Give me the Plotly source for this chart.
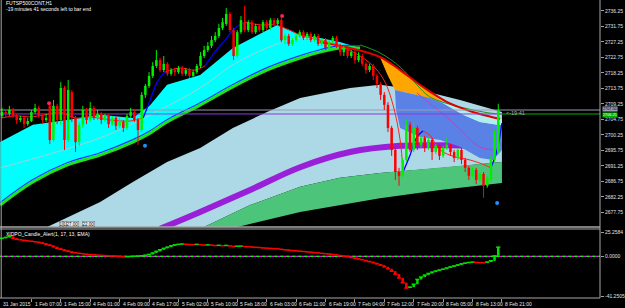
import plotly.graph_objects as go

# ---------------- data ----------------
bar_idx = list(range(136))
open_ = [
2705.8, 2706.9, 2706.4, 2707.5, 2705.8, 2704.6, 2705.2, 2703.4, 2704.3, 2706.9,
2708.1, 2705.8, 2704.6, 2708.7, 2698.8, 2708.7, 2704.6, 2713.9, 2698.8, 2712.7,
2705.2, 2698.2, 2703.2, 2707.5, 2704.6, 2708.1, 2705.2, 2706.4, 2704.6, 2705.8,
2703.4, 2705.2, 2702.9, 2704.0, 2702.3, 2705.8, 2706.9, 2704.6, 2701.7, 2711.9,
2714.5, 2717.4, 2720.3, 2722.0, 2719.1, 2720.9, 2718.0, 2719.1, 2718.5, 2719.7,
2718.0, 2719.1, 2717.4, 2718.5, 2720.3, 2723.2, 2724.9, 2726.1, 2727.8, 2729.0,
2731.3, 2732.5, 2735.4, 2730.7, 2723.2, 2730.1, 2733.0, 2730.7, 2733.0, 2730.1,
2731.9, 2730.7, 2733.0, 2731.3, 2733.6, 2732.5, 2733.6, 2727.8, 2729.0, 2726.7,
2727.8, 2729.0, 2730.1, 2728.4, 2729.6, 2727.8, 2729.0, 2726.7, 2727.8, 2725.5,
2727.2, 2728.4, 2726.1, 2724.3, 2725.5, 2723.2, 2724.3, 2722.0, 2723.2, 2720.9,
2719.1, 2720.3, 2717.4, 2715.1, 2711.9, 2709.0, 2702.3, 2695.9, 2689.5, 2688.4,
2693.0, 2703.2, 2695.9, 2702.3, 2697.4, 2699.4, 2696.5, 2698.8, 2695.3, 2697.1,
2694.2, 2696.5, 2697.4, 2695.3, 2693.6, 2695.9, 2693.0, 2690.7, 2688.4, 2690.1,
2687.2, 2688.9, 2685.5, 2687.2, 2693.0, 2695.3]
close_ = [
2706.9, 2706.4, 2707.5, 2705.8, 2704.6, 2705.2, 2703.4, 2704.3, 2706.9, 2708.1,
2705.8, 2704.6, 2705.2, 2698.8, 2708.7, 2704.6, 2713.9, 2698.8, 2713.3, 2705.2,
2698.2, 2703.2, 2707.5, 2704.6, 2708.1, 2705.2, 2706.4, 2704.6, 2705.8, 2703.4,
2705.2, 2702.9, 2704.0, 2702.3, 2705.8, 2706.9, 2704.6, 2701.7, 2711.9, 2714.5,
2717.4, 2720.3, 2722.0, 2719.1, 2720.9, 2718.0, 2719.1, 2718.5, 2719.7, 2718.0,
2719.1, 2717.4, 2718.5, 2720.3, 2723.2, 2724.9, 2726.1, 2727.8, 2729.0, 2731.3,
2733.0, 2735.4, 2730.7, 2723.2, 2730.1, 2733.6, 2730.7, 2733.0, 2730.1, 2731.9,
2730.7, 2733.0, 2731.3, 2733.6, 2732.5, 2733.6, 2727.8, 2729.0, 2726.7, 2727.8,
2729.0, 2730.1, 2728.4, 2729.6, 2727.8, 2729.0, 2726.7, 2727.8, 2725.5, 2727.2,
2728.4, 2726.1, 2724.3, 2725.5, 2723.2, 2724.3, 2722.0, 2723.2, 2720.9, 2719.1,
2720.3, 2717.4, 2715.1, 2711.9, 2709.0, 2702.3, 2695.9, 2689.5, 2688.4, 2693.0,
2703.2, 2695.9, 2702.3, 2697.4, 2699.4, 2696.5, 2698.8, 2695.3, 2697.1, 2694.2,
2696.5, 2697.4, 2695.3, 2693.6, 2695.9, 2693.0, 2690.7, 2688.4, 2690.1, 2687.2,
2688.9, 2685.5, 2687.8, 2693.0, 2701.1, 2707.5]
high_ = [
2708.1, 2707.5, 2708.7, 2708.1, 2706.4, 2705.8, 2705.8, 2705.2, 2707.5, 2709.3,
2708.7, 2706.4, 2706.4, 2709.8, 2710.4, 2709.3, 2715.6, 2714.5, 2716.2, 2713.3,
2705.8, 2704.0, 2708.7, 2708.1, 2709.8, 2708.7, 2707.5, 2706.9, 2706.4, 2706.4,
2705.8, 2705.8, 2705.2, 2704.6, 2706.4, 2708.1, 2707.5, 2705.2, 2712.7, 2715.1,
2718.5, 2721.4, 2724.9, 2722.6, 2723.2, 2721.4, 2719.7, 2719.7, 2720.3, 2720.3,
2719.7, 2719.7, 2719.1, 2720.9, 2724.3, 2726.1, 2727.2, 2729.0, 2730.1, 2732.5,
2734.2, 2737.1, 2736.0, 2731.3, 2730.7, 2734.8, 2737.7, 2733.6, 2733.6, 2732.5,
2732.5, 2733.6, 2733.6, 2734.2, 2734.2, 2734.2, 2734.2, 2729.6, 2729.6, 2728.4,
2729.6, 2730.7, 2730.7, 2730.1, 2730.1, 2729.6, 2729.6, 2728.4, 2728.4, 2727.8,
2729.0, 2729.0, 2726.7, 2726.1, 2726.1, 2724.9, 2724.9, 2724.3, 2723.8, 2721.4,
2720.9, 2720.9, 2718.0, 2715.6, 2712.7, 2709.8, 2702.9, 2696.5, 2690.7, 2693.6,
2704.6, 2704.0, 2704.0, 2702.9, 2700.0, 2700.0, 2699.4, 2699.4, 2697.6, 2697.6,
2697.1, 2699.4, 2697.6, 2695.9, 2696.5, 2696.5, 2693.6, 2691.3, 2690.7, 2690.7,
2689.5, 2689.5, 2688.4, 2694.2, 2701.7, 2709.3]
low_ = [
2705.2, 2705.5, 2705.8, 2705.2, 2703.4, 2704.0, 2702.3, 2702.9, 2704.0, 2706.4,
2705.2, 2703.4, 2704.0, 2697.6, 2698.2, 2703.4, 2703.2, 2695.9, 2698.2, 2704.0,
2695.3, 2697.1, 2702.3, 2703.4, 2704.0, 2704.6, 2704.6, 2703.4, 2704.0, 2702.3,
2702.9, 2701.7, 2702.3, 2701.1, 2701.7, 2705.2, 2704.0, 2697.4, 2701.1, 2711.0,
2713.9, 2716.8, 2719.7, 2718.5, 2718.5, 2717.4, 2717.4, 2717.4, 2718.0, 2717.4,
2717.4, 2716.8, 2716.8, 2718.0, 2719.7, 2722.6, 2724.3, 2725.5, 2727.2, 2728.4,
2730.7, 2731.9, 2730.1, 2722.0, 2722.6, 2729.6, 2730.1, 2730.1, 2729.6, 2729.6,
2730.1, 2730.1, 2730.7, 2730.7, 2731.9, 2731.9, 2727.2, 2726.7, 2726.1, 2726.1,
2727.2, 2728.4, 2727.8, 2727.8, 2727.2, 2727.2, 2726.1, 2726.1, 2724.9, 2724.9,
2726.7, 2725.5, 2723.2, 2723.2, 2722.6, 2722.6, 2720.9, 2721.4, 2720.3, 2718.0,
2718.5, 2716.2, 2713.9, 2710.4, 2707.5, 2701.1, 2694.2, 2687.2, 2685.5, 2687.8,
2692.4, 2695.3, 2695.3, 2695.9, 2696.5, 2695.3, 2695.9, 2693.0, 2694.7, 2693.0,
2693.6, 2695.9, 2694.2, 2692.4, 2693.0, 2691.8, 2689.5, 2687.2, 2687.8, 2686.0,
2686.6, 2682.0, 2684.9, 2686.6, 2692.4, 2694.7]

# lower indicator (XDPO candle) closing values per bar
dpo = [18.7, 19.7, 20.8, 18.7, 17.7, 17.1, 16.6, 16.1, 15.6, 15.1,
       14.5, 13.5, 12.5, 11.4, 9.9, 8.3, 7.3, 6.2, 5.2, 4.2,
       3.6, 3.1, 2.6, 2.1, 1.8, 1.6, 1.2, 1.0, 0.8, 0.5,
       0.3, 0.2, -0.3, -0.5, -0.4, -0.2, 0.1, 0.3, 0.6, 1.2,
       2.0, 3.5, 5.2, 6.8, 8.3, 9.6, 10.9, 11.9, 12.5, 12.8,
       12.6, 12.3, 12.1, 12.4, 12.0, 11.7, 11.9, 11.5, 11.2, 11.4,
       11.0, 11.3, 10.8, 10.3, 10.5, 10.6, 10.2, 10.0, 9.6, 9.4,
       9.1, 8.7, 8.5, 8.3, 8.0, 7.8, 7.2, 6.8, 6.4, 6.0,
       5.7, 5.3, 5.0, 4.6, 4.3, 3.9, 3.5, 3.1, 2.7, 2.3,
       1.9, 1.4, 0.8, 0.2, -0.5, -1.2, -2.0, -2.8, -3.6, -4.6,
       -5.6, -6.7, -7.9, -9.3, -11.0, -13.0, -15.5, -18.5, -22.5, -27.5,
       -33.0, -32.0, -29.0, -24.0, -21.5, -19.5, -17.8, -16.4, -15.2, -14.2,
       -13.3, -12.1, -11.0, -10.0, -8.9, -7.8, -7.0, -6.4, -6.0, -6.3,
       -6.6, -6.8, -5.9, -4.6, 0.5, 9.5]

# indicator envelopes (bar index, price)
cyan_up_x = [-0.5, 8.4, 17.7, 26.7, 35.6, 40.3, 44.9, 53.9, 62.8, 72.1, 74.8, 81.1, 86.5, 91.9, 97.4]
cyan_up_y = [2698.2, 2703.2, 2704.6, 2706.1, 2705.2, 2708.9, 2714.8, 2717.7, 2725.5, 2730.7, 2732.2, 2729.3, 2728.4, 2727.25, 2725.5]
lime_x = [-0.5, 8.4, 17.7, 26.7, 35.6, 40.3, 44.9, 53.9, 62.8, 72.1, 81.1, 86.5, 91.9, 97.4]
lime_y = [2679.9, 2686.6, 2691.5, 2694.4, 2698.2, 2700.8, 2704.0, 2708.9, 2714.2, 2719.1, 2722.6, 2724.3, 2725.5, 2725.5]
blue_slow_y = [2680.6, 2687.3, 2692.2, 2695.1, 2698.9, 2701.5, 2704.7, 2709.6, 2714.9, 2719.8, 2723.3, 2725.0, 2726.2, 2726.2]
mid_x = [-0.5, 26.7, 40.3, 53.9, 62.8, 72.1, 81.1, 91.9]
mid_y = [2690.7, 2699.4, 2706.1, 2713.9, 2720.6, 2725.5, 2728.4, 2726.4]

lb_up_x = [11.2, 26.7, 35.6, 44.9, 53.9, 62.8, 72.1, 81.1, 94.7, 102.8, 113.7, 124.6, 136.0]
lb_up_y = [2673.0, 2680.8, 2686.6, 2692.4, 2696.5, 2702.3, 2706.9, 2711.0, 2713.9, 2714.8, 2713.3, 2710.4, 2706.9]
gr_up_x = [53.9, 67.5, 81.1, 91.9, 102.8, 119.2, 136.0]
gr_up_y = [2673.0, 2679.9, 2685.2, 2687.8, 2689.2, 2690.7, 2692.4]
gr_lo_x = [62.0, 81.1, 91.9, 102.8, 119.2, 136.0]
gr_lo_y = [2673.0, 2677.9, 2679.9, 2681.9, 2684.3, 2686.3]

purple_x = [43.0, 53.9, 67.5, 81.1, 94.7, 108.3, 119.2, 136.0]
purple_y = [2673.0, 2677.9, 2684.3, 2690.9, 2695.3, 2697.1, 2697.3, 2697.1]

orange_x = [102.8, 108.3, 114.5, 120.0, 111.0, 106.9, 104.8]
orange_y = [2722.9, 2719.1, 2714.2, 2709.8, 2712.4, 2713.3, 2717.9]
band_x = [106.9, 111.0, 116.4, 120.0, 125.4, 130.0, 134.7, 136.0, 136.0, 133.6, 130.0, 124.6, 119.2, 113.7, 108.3, 107.2]
band_y = [2713.3, 2712.4, 2711.0, 2709.5, 2706.1, 2704.0, 2703.2, 2703.2, 2695.9, 2693.0, 2693.6, 2696.8, 2698.8, 2699.7, 2702.3, 2707.5]
turq_x = [120.0, 126.5, 130.0, 135.5, 136.0, 136.0, 134.7, 130.0, 125.4, 120.0]
turq_y = [2709.8, 2707.5, 2706.35, 2704.9, 2704.9, 2703.2, 2703.2, 2704.0, 2706.1, 2709.5]
redthick_x = [86.5, 94.7, 102.8, 108.3, 114.5, 121.1, 126.5, 130.0, 135.5]
redthick_y = [2727.25, 2725.5, 2722.9, 2719.1, 2714.2, 2709.8, 2707.5, 2706.35, 2704.9]
dkgreen_x = [97.4, 102.8, 108.3, 112.9, 116.4, 124.6, 132.8, 136.0]
dkgreen_y = [2726.4, 2724.1, 2720.0, 2714.8, 2711.3, 2708.4, 2706.6, 2706.35]
violet_x = [112.9, 121.9, 130.0, 134.1]
violet_y = [2712.4, 2704.6, 2696.8, 2695.9]

ma_red_x = [0, 3.5, 7.6, 11.7, 15.8, 19.9, 23.9, 29.4, 34.8, 38.4, None,
            44.3, 48.4, 52.5, 55.2, None,
            66.1, 70.2, 74.3, 78.3, 81.1, 86.5, 91.9, 97.4, 101.5, 104.2, 106.4, 108.3, 109.1, None,
            114.5, 116.4, 119.2, 123.2, 127.3, 131.4, 133.0]
ma_red_y = [2705.2, 2705.8, 2705.5, 2706.1, 2706.9, 2705.2, 2705.5, 2704.6, 2704.3, 2705.2, None,
            2718.5, 2719.7, 2719.1, 2720.3, None,
            2733.05, 2732.2, 2732.2, 2730.7, 2729.3, 2727.8, 2726.1, 2723.2, 2719.7, 2715.6, 2708.9, 2698.8, 2689.5, None,
            2701.4, 2700.2, 2695.9, 2693.9, 2693.0, 2691.5, 2690.7]
ma_blue_x = [38.4, 40.3, 42.2, 44.3, None, 55.2, 57.9, 60.7, 63.4, 66.1, None,
             109.1, 111.0, 112.9, 114.5, None, 133.0, 134.7, 136.0]
ma_blue_y = [2705.2, 2710.4, 2715.6, 2718.5, None, 2720.3, 2724.3, 2727.8, 2731.3, 2733.05, None,
             2689.5, 2694.4, 2699.7, 2701.4, None, 2690.7, 2695.9, 2703.7]

red_dots_x = [12.8, 76.2]
red_dots_y = [2709.5, 2734.8]
blue_dots_x = [38.9, 134.7]
blue_dots_y = [2697.1, 2680.5]

ask_level = 2707.5
bid_level = 2706.35

price_ticks = [2736.25, 2731.75, 2727.25, 2722.75, 2718.25, 2713.75, 2709.25,
               2704.75, 2700.25, 2695.75, 2691.25, 2686.75, 2682.25, 2677.75]
lower_ticks = [25.2584, 0.0, -41.2505]
lower_tick_text = ["25.2584", "0.0000", "-41.2505"]
time_idx = [0, 8, 16, 24, 32, 40, 48, 56, 64, 72, 80, 88, 96, 104, 112, 120, 128, 136]
time_text = ["31 Jan 2015", "1 Feb 07:00", "1 Feb 15:00", "4 Feb 01:00", "4 Feb 09:00",
             "4 Feb 17:00", "5 Feb 02:00", "5 Feb 10:00", "5 Feb 18:00", "6 Feb 03:00",
             "6 Feb 11:00", "6 Feb 19:00", "7 Feb 04:00", "7 Feb 12:00", "7 Feb 20:00",
             "8 Feb 05:00", "8 Feb 13:00", "8 Feb 21:00"]

# ---------------- figure ----------------
FONT = "Liberation Sans"
fig = go.Figure()

def poly(xs, ys, color):
    fig.add_trace(go.Scatter(x=xs, y=ys, fill="toself", fillcolor=color, mode="lines",
                             line=dict(width=0, color=color), hoverinfo="skip",
                             xaxis="x", yaxis="y"))

def line(xs, ys, color, width, shape="spline", xa="x", ya="y", dash="solid"):
    fig.add_trace(go.Scatter(x=xs, y=ys, mode="lines", hoverinfo="skip",
                             line=dict(color=color, width=width, shape=shape, dash=dash),
                             connectgaps=False, xaxis=xa, yaxis=ya))

def candles(xs, o, h, l, c, up, dn, body_w, xa, ya):
    # drawn as scatter segments so they stay above the filled indicator areas
    for color, rising in ((up, True), (dn, False)):
        wx, wy, bx, by = [], [], [], []
        for i, oo, hh, ll, cc in zip(xs, o, h, l, c):
            if (cc >= oo) != rising:
                continue
            wx += [i, i, None]
            wy += [ll, hh, None]
            bx += [i, i, None]
            by += [oo, cc, None]
        line(wx, wy, color, 1, "linear", xa, ya)
        line(bx, by, color, body_w, "linear", xa, ya)

# light blue + green bands
poly(lb_up_x + gr_up_x[::-1] + [11.2], lb_up_y + gr_up_y[::-1] + [2673.0], "#ADD8E6")
poly(gr_up_x + gr_lo_x[::-1], gr_up_y + gr_lo_y[::-1], "#4CC47A")
line(purple_x, purple_y, "#9A1FD8", 6)
# cyan channel
poly(cyan_up_x + lime_x[::-1], cyan_up_y + lime_y[::-1], "#00FFFF")
line(mid_x, mid_y, "#C8C8C8", 0.8)
line(lime_x, blue_slow_y, "#1030FF", 1.2)
line(lime_x, lime_y, "#22E022", 3)
# right-side cloud
poly(orange_x, orange_y, "#FFA500")
poly(band_x, band_y, "#5A82E6")
poly(turq_x, turq_y, "#AFEEEE")
line(violet_x, violet_y, "#C040C0", 1)
line(dkgreen_x, dkgreen_y, "#1A9A1A", 1)
line(redthick_x, redthick_y, "#E00000", 2)
# horizontal price lines
line([-1, 170], [ask_level, ask_level], "#9A9AB4", 1, "linear")
line([-1, 135.8], [bid_level, bid_level], "#8A3BE2", 1, "linear")
line([135.8, 170], [bid_level, bid_level], "#00B000", 1, "linear")
# fast MA
line(ma_red_x, ma_red_y, "#FF2020", 1)
line(ma_blue_x, ma_blue_y, "#0000FF", 1.3)

candles(bar_idx, open_, high_, low_, close_, "#00F000", "#FF0000", 2.5, "x", "y")

fig.add_trace(go.Scatter(x=red_dots_x, y=red_dots_y, mode="markers", hoverinfo="skip",
                         marker=dict(color="#FF2050", size=4), xaxis="x", yaxis="y"))
fig.add_trace(go.Scatter(x=blue_dots_x, y=blue_dots_y, mode="markers", hoverinfo="skip",
                         marker=dict(color="#1E90FF", size=4), xaxis="x", yaxis="y"))

# lower panel
dpo_open = [dpo[0]] + dpo[:-1]
line([-1, 170], [0, 0], "#FF00FF", 1.2, "linear", "x2", "y2")
line([-1, 170], [0, 0], "#00FF00", 1.2, "linear", "x2", "y2", "3px,3px")
candles(bar_idx, dpo_open, [max(a, b) for a, b in zip(dpo_open, dpo)],
        [min(a, b) for a, b in zip(dpo_open, dpo)], dpo, "#00E000", "#FF0000", 2.5, "x2", "y2")
dcol = ["#00E000" if c >= o else "#FF0000" for o, c in zip(dpo_open, dpo)]
fig.add_trace(go.Scatter(x=bar_idx, y=dpo, mode="markers", hoverinfo="skip",
                         marker=dict(symbol="line-ew", size=3, line=dict(width=1.5, color=dcol)),
                         xaxis="x2", yaxis="y2"))

XR = [-0.544, 162.68]
fig.update_layout(
    width=625, height=308, autosize=False,
    margin=dict(l=0, r=25, t=0, b=10),
    paper_bgcolor="#000000", plot_bgcolor="#000000",
    showlegend=False,
    xaxis=dict(domain=[0, 1], range=XR, anchor="y", visible=False, fixedrange=True),
    yaxis=dict(domain=[0.2383, 1.0], range=[2673.54, 2739.44], side="right", anchor="x",
               tickvals=price_ticks, ticktext=[f"{v:.2f}" for v in price_ticks],
               tickfont=dict(family=FONT, size=5, color="#E0E0E0"),
               ticks="outside", ticklen=3, tickcolor="#A0A0A0",
               showgrid=False, zeroline=False, showline=False),
    xaxis2=dict(domain=[0, 1], range=XR, anchor="y2", tickvals=time_idx[1:],
                ticktext=["" for _ in time_idx[1:]], ticks="outside", ticklen=3,
                tickcolor="#A0A0A0", showgrid=False, zeroline=False, showline=False),
    yaxis2=dict(domain=[0, 0.2315], range=[-43.33, 28.38], side="right", anchor="x2",
                tickvals=lower_ticks, ticktext=lower_tick_text,
                tickfont=dict(family=FONT, size=5, color="#E0E0E0"),
                ticks="outside", ticklen=3, tickcolor="#A0A0A0",
                showgrid=False, zeroline=False, showline=False),
)

# borders
G = "#A8A8A8"
for x0, y0, x1, y1, w in [(1, 0, 1, 1, 1), (0.002, 0, 0.002, 1, 1),
                          (0, 0.2383, 1, 0.2383, 1.5), (0, 0.2315, 1, 0.2315, 1),
                          (0, 0.0, 1, 0.0, 1)]:
    fig.add_shape(type="line", xref="paper", yref="paper", x0=x0, y0=y0, x1=x1, y1=y1,
                  line=dict(color=G, width=w))

# time labels
for i, t in zip(time_idx, time_text):
    fig.add_annotation(x=i + (0.3 if i else -0.3), y=-5.5 / 298, xref="x2", yref="paper",
                       text=t, showarrow=False, xanchor="left", yanchor="middle",
                       font=dict(family=FONT, size=5, color="#E8E8E8"))

# text annotations
fig.add_annotation(x=0.006, y=1 - 3.5 / 298, xref="paper", yref="paper", text="FUTSP500CONT,H1",
                   showarrow=False, xanchor="left", yanchor="middle",
                   font=dict(family=FONT, size=5, color="#FFFFFF"))
fig.add_annotation(x=0.006, y=1 - 9 / 298, xref="paper", yref="paper",
                   text="-19 minutes 41 seconds left to bar end",
                   showarrow=False, xanchor="left", yanchor="middle",
                   font=dict(family=FONT, size=5, color="#FFFFFF"))
fig.add_annotation(x=0.006, y=(298 - 233.5) / 298, xref="paper", yref="paper",
                   text="XIDPO_Candle_Alert(1, 17, 13, EMA)",
                   showarrow=False, xanchor="left", yanchor="middle",
                   font=dict(family=FONT, size=5, color="#FFFFFF"))
fig.add_annotation(x=136.5, y=bid_level + 0.2, xref="x", yref="y", text="<-19:41",
                   showarrow=False, xanchor="left", yanchor="middle",
                   font=dict(family=FONT, size=5.5, color="#B0B0B0"))
# price label boxes
fig.add_annotation(x=1.003, y=2707.7, xref="paper", yref="y", text="2707.50",
                   showarrow=False, xanchor="left", yanchor="middle", bgcolor="#9A9AB4",
                   borderpad=0, font=dict(family=FONT, size=3.8, color="#000000"))
fig.add_annotation(x=1.003, y=2706.15, xref="paper", yref="y", text="2706.25",
                   showarrow=False, xanchor="left", yanchor="middle", bgcolor="#00B000",
                   borderpad=0, font=dict(family=FONT, size=3.8, color="#FFFFFF"))
# small buttons
for xp, txt in [(60.5, "1"), (64.5, "1"), (72.5, "27.00"), (88, "22.00")]:
    fig.add_annotation(x=xp / 600, y=(298 - 224) / 298, xref="paper", yref="paper", text=txt,
                       showarrow=False, xanchor="center", yanchor="middle", bgcolor="#F0F0F0",
                       bordercolor="#606060", borderwidth=0.5, borderpad=0,
                       font=dict(family=FONT, size=4.5, color="#000000"))

fig.write_html("out.html")
